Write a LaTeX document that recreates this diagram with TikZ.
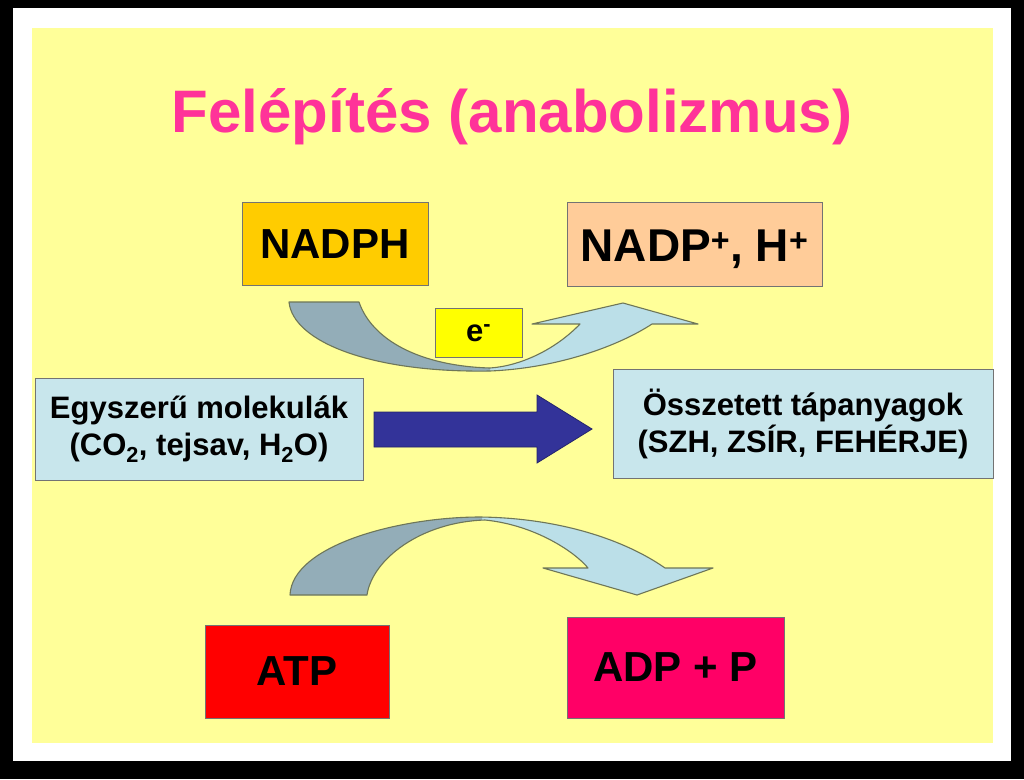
\documentclass[tikz,border=0pt]{standalone}
\usepackage{fontspec}
\setmainfont{Liberation Sans}
\definecolor{bgyellow}{HTML}{FFFF99}
\definecolor{titlepink}{HTML}{FF3399}
\definecolor{nadphfill}{HTML}{FFCC00}
\definecolor{nadpfill}{HTML}{FFCC99}
\definecolor{efill}{HTML}{FFFF00}
\definecolor{lightbox}{HTML}{C8E6EC}
\definecolor{bigblue}{HTML}{333399}
\definecolor{atpfill}{HTML}{FF0000}
\definecolor{adpfill}{HTML}{FF0066}
\definecolor{arrowdark}{HTML}{93ADB8}
\definecolor{arrowlight}{HTML}{BBDFE8}
\definecolor{arrowedge}{HTML}{6E7658}
\begin{document}
\begin{tikzpicture}[x=1pt,y=-1pt,
  box/.style={draw=black!55, line width=0.8pt, inner sep=0pt, align=center,
              font=\bfseries\fontsize{42}{48}\selectfont},
  bluebox/.style={box, fill=lightbox, font=\bfseries\fontsize{31}{37}\selectfont},
  curvedge/.style={draw=arrowedge, line width=1.1pt, line join=round}]
\useasboundingbox (0,0) rectangle (1024,779);
% frame
\fill[black] (0,0) rectangle (1024,779);
\fill[white] (13,8) rectangle (1011,761);
\fill[bgyellow] (32,28) rectangle (993,743);
% title
\node[anchor=base, text=titlepink, inner sep=0pt,
      font=\bfseries\fontsize{60}{70}\selectfont] (title) at (512,132) {Felépítés (anabolizmus)};
% boxes
\node[box, fill=nadphfill, minimum width=186, minimum height=83] (nadph) at (335,244) {NADPH};
\node[box, fill=nadpfill, minimum width=255, minimum height=84, text height=33pt, text depth=0pt,
      font=\bfseries\fontsize{46}{52}\selectfont] (nadp) at (694.5,244.5) {NADP\textsuperscript{+}, H\textsuperscript{+}};
\node[box, fill=efill, minimum width=87, minimum height=49, text height=17pt, text depth=0pt,
      font=\bfseries\fontsize{31}{34}\selectfont] (e) at (478.5,332.5) {e\textsuperscript{-}};
\node[bluebox, minimum width=328, minimum height=102] (egy) at (199,429) {Egyszerű molekulák\\(CO\textsubscript{2}, tejsav, H\textsubscript{2}O)};
\node[bluebox, minimum width=380, minimum height=109] (oss) at (803,423.5) {Összetett tápanyagok\\(SZH, ZSÍR, FEHÉRJE)};
\node[box, fill=atpfill, minimum width=184, minimum height=93] (atp) at (297,671.5) {ATP};
\node[box, fill=adpfill, minimum width=217, minimum height=101] (adp) at (675.5,667.5) {ADP + P};
% big blue arrow
\fill[bigblue, draw=bigblue!70!black, line width=0.8pt]
  (374,412) -- (537,412) -- (537,395) -- (592,429) -- (537,463) -- (537,447) -- (374,447) -- cycle;
% top curved arrow
\path[save path=\toparrow]
  (289,302) .. controls (293,342) and (372,373) .. (490,371)
  .. controls (560,368) and (620,345) .. (652,324)
  -- (698,324) -- (623,303) -- (532,324) -- (580,324)
  .. controls (555,350) and (520,366) .. (490,368)
  .. controls (420,366) and (372,340) .. (359,302) -- cycle;
\fill[arrowlight, use path=\toparrow];
\begin{scope}
  \clip (0,0) rectangle (490,779);
  \fill[arrowdark, use path=\toparrow];
\end{scope}
\draw[curvedge, use path=\toparrow];
% bottom curved arrow
\path[save path=\botarrow]
  (290,595) .. controls (292,545) and (400,517) .. (480,517)
  .. controls (560,518) and (625,540) .. (665,568)
  -- (713,568) -- (637,595) -- (543,568) -- (588,568)
  .. controls (575,552) and (535,525) .. (485,520)
  .. controls (420,522) and (372,560) .. (367,595) -- cycle;
\fill[arrowlight, use path=\botarrow];
\begin{scope}
  \clip (0,0) rectangle (482,779);
  \fill[arrowdark, use path=\botarrow];
\end{scope}
\draw[curvedge, use path=\botarrow];
\end{tikzpicture}
\end{document}
